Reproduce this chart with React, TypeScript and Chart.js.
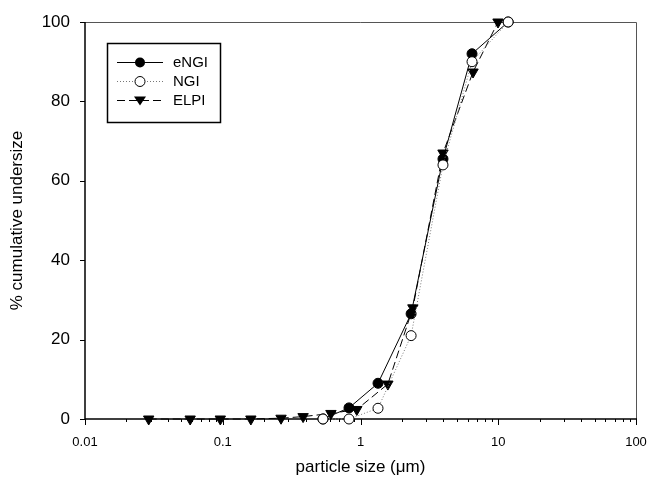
import React, { useEffect, useRef } from "react";
import { Chart, registerables } from "chart.js";

Chart.register(...registerables);

const ENGI_X = [0.534, 0.825, 1.34, 2.33, 3.97, 6.45, 11.8];
const ENGI_Y = [0, 2.8, 9, 26.5, 65.5, 92, 100];
const NGI_X = [0.534, 0.825, 1.34, 2.33, 3.97, 6.45, 11.8];
const NGI_Y = [0, 0, 2.7, 21, 64, 90, 100];
const ELPI_X = [0.029, 0.058, 0.096, 0.16, 0.265, 0.383, 0.61, 0.94, 1.58, 2.4, 3.97, 6.56, 9.96];
const ELPI_Y = [0, 0, 0, 0, 0.2, 0.6, 1.4, 2.4, 8.8, 28, 67, 87.4, 100];
const X_TICKS = [0.01, 0.1, 1, 10, 100];
const Y_TICKS = [0, 20, 40, 60, 80, 100];
const LEGEND = ["eNGI", "NGI", "ELPI"];

const pts = (xs: number[], ys: number[]) => xs.map((x, i) => ({ x, y: ys[i] }));

function drawMarker(ctx: CanvasRenderingContext2D, kind: number, x: number, y: number) {
  ctx.save();
  ctx.setLineDash([]);
  ctx.lineWidth = 1;
  ctx.strokeStyle = "#000";
  if (kind === 0) {
    ctx.beginPath();
    ctx.arc(x, y, 5, 0, Math.PI * 2);
    ctx.fillStyle = "#000";
    ctx.fill();
  } else if (kind === 1) {
    ctx.beginPath();
    ctx.arc(x, y, 5, 0, Math.PI * 2);
    ctx.fillStyle = "#fff";
    ctx.fill();
    ctx.stroke();
  } else {
    ctx.beginPath();
    ctx.moveTo(x - 6, y - 4);
    ctx.lineTo(x + 6, y - 4);
    ctx.lineTo(x, y + 5);
    ctx.closePath();
    ctx.fillStyle = "#000";
    ctx.fill();
  }
  ctx.restore();
}

const framePlugin = {
  id: "frame",
  beforeDatasetsDraw(chart: any) {
    const { ctx, chartArea } = chart;
    const xs = chart.scales.x;
    const ys = chart.scales.y;
    const { left, right, top, bottom } = chartArea;
    ctx.save();
    ctx.strokeStyle = "#555";
    ctx.lineWidth = 1;
    ctx.beginPath();
    ctx.moveTo(left, top + 0.5);
    ctx.lineTo(right + 0.5, top + 0.5);
    ctx.lineTo(right + 0.5, bottom);
    ctx.stroke();
    ctx.strokeStyle = "#000";
    ctx.lineWidth = 1.5;
    ctx.beginPath();
    ctx.moveTo(left, top);
    ctx.lineTo(left, bottom);
    ctx.lineTo(right + 1, bottom);
    ctx.stroke();
    ctx.lineWidth = 1;
    ctx.beginPath();
    for (const v of Y_TICKS) {
      const py = Math.round(ys.getPixelForValue(v)) + 0.5;
      ctx.moveTo(left - 5, py);
      ctx.lineTo(left, py);
    }
    ctx.stroke();
    ctx.beginPath();
    for (let d = 0; d < X_TICKS.length; d++) {
      const base = X_TICKS[d];
      const px = Math.round(xs.getPixelForValue(base)) + 0.5;
      ctx.moveTo(px, bottom);
      ctx.lineTo(px, bottom + 6);
      if (d < X_TICKS.length - 1) {
        for (let m = 2; m <= 9; m++) {
          const mx = Math.round(xs.getPixelForValue(base * m)) + 0.5;
          ctx.moveTo(mx, bottom);
          ctx.lineTo(mx, bottom + 3);
        }
      }
    }
    ctx.stroke();
    ctx.restore();
  },
  afterDraw(chart: any) {
    const { ctx } = chart;
    ctx.save();
    ctx.strokeStyle = "#000";
    ctx.lineWidth = 1.5;
    ctx.strokeRect(107.5, 43.5, 113, 79);
    const rows = [62, 81, 100];
    const dashes = [[], [1, 2], [8, 4]];
    const colors = ["#000", "#777", "#000"];
    rows.forEach((y, i) => {
      ctx.save();
      ctx.lineWidth = 1;
      ctx.strokeStyle = colors[i];
      ctx.setLineDash(dashes[i]);
      ctx.beginPath();
      ctx.moveTo(117, y + 0.5);
      ctx.lineTo(163, y + 0.5);
      ctx.stroke();
      ctx.restore();
      drawMarker(ctx, i, 140, y + 0.5);
      ctx.fillStyle = "#000";
      ctx.font = "15px 'Liberation Sans', Arial, sans-serif";
      ctx.textAlign = "left";
      ctx.textBaseline = "middle";
      ctx.fillText(LEGEND[i], 173, y + 1);
    });
    ctx.restore();
  },
};

export default function App() {
  const ref = useRef<HTMLCanvasElement | null>(null);
  useEffect(() => {
    document.body.style.margin = "0";
    const canvas = ref.current!;
    const chart = new Chart(canvas, {
      type: "line",
      data: {
        datasets: [
          {
            label: "NGI",
            data: pts(NGI_X, NGI_Y),
            borderColor: "#777",
            borderWidth: 1,
            borderDash: [1, 2],
            pointStyle: "circle",
            pointRadius: 5,
            pointBackgroundColor: "#fff",
            pointBorderColor: "#000",
            pointBorderWidth: 1,
            order: 0,
            tension: 0,
          },
          {
            label: "eNGI",
            data: pts(ENGI_X, ENGI_Y),
            borderColor: "#000",
            borderWidth: 1,
            pointStyle: "circle",
            pointRadius: 5,
            pointBackgroundColor: "#000",
            pointBorderColor: "#000",
            pointBorderWidth: 1,
            order: 1,
            tension: 0,
          },
          {
            label: "ELPI",
            data: pts(ELPI_X, ELPI_Y),
            borderColor: "#000",
            borderWidth: 1,
            borderDash: [8, 4],
            pointStyle: "triangle",
            rotation: 180,
            pointRadius: 6,
            pointBackgroundColor: "#000",
            pointBorderColor: "#000",
            pointBorderWidth: 1,
            order: 2,
            tension: 0,
          } as any,
        ],
      },
      options: {
        animation: false,
        responsive: false,
        devicePixelRatio: 1,
        clip: false as any,
        layout: { padding: { left: 0, top: 22, right: 15, bottom: 0 } },
        plugins: { legend: { display: false }, tooltip: { enabled: false } },
        scales: {
          x: {
            type: "logarithmic",
            min: 0.01,
            max: 100,
            grid: { display: false, drawTicks: false, tickLength: 0 },
            border: { display: false },
            afterBuildTicks: (s: any) => {
              s.ticks = X_TICKS.map((v) => ({ value: v }));
            },
            afterFit: (s: any) => {
              s.height = 66;
              s.paddingLeft = 0;
              s.paddingRight = 0;
              s.paddingTop = 0;
              s.paddingBottom = 0;
            },
            ticks: {
              padding: 16,
              color: "#000",
              autoSkip: false,
              maxRotation: 0,
              font: { family: "'Liberation Sans', Arial, sans-serif", size: 13 },
              callback: (v: any) => String(v),
            },
            title: {
              display: true,
              text: "particle size (\u03BCm)",
              color: "#000",
              font: { family: "'Liberation Sans', Arial, sans-serif", size: 17 },
              padding: { top: 0, bottom: 7 },
            },
          },
          y: {
            type: "linear",
            min: 0,
            max: 100,
            grid: { display: false, drawTicks: false, tickLength: 0 },
            border: { display: false },
            afterBuildTicks: (s: any) => {
              s.ticks = Y_TICKS.map((v) => ({ value: v }));
            },
            afterFit: (s: any) => {
              s.width = 85;
              s.paddingLeft = 0;
              s.paddingRight = 0;
              s.paddingTop = 0;
              s.paddingBottom = 0;
            },
            ticks: {
              padding: 15,
              color: "#000",
              font: { family: "'Liberation Sans', Arial, sans-serif", size: 17 },
            },
            title: {
              display: true,
              text: "% cumulative undersize",
              color: "#000",
              font: { family: "'Liberation Sans', Arial, sans-serif", size: 17 },
              padding: { top: 7, bottom: 0 },
            },
          },
        },
      },
      plugins: [framePlugin],
    });
    return () => chart.destroy();
  }, []);
  return <canvas ref={ref} width={651} height={485} style={{ display: "block" }} />;
}
